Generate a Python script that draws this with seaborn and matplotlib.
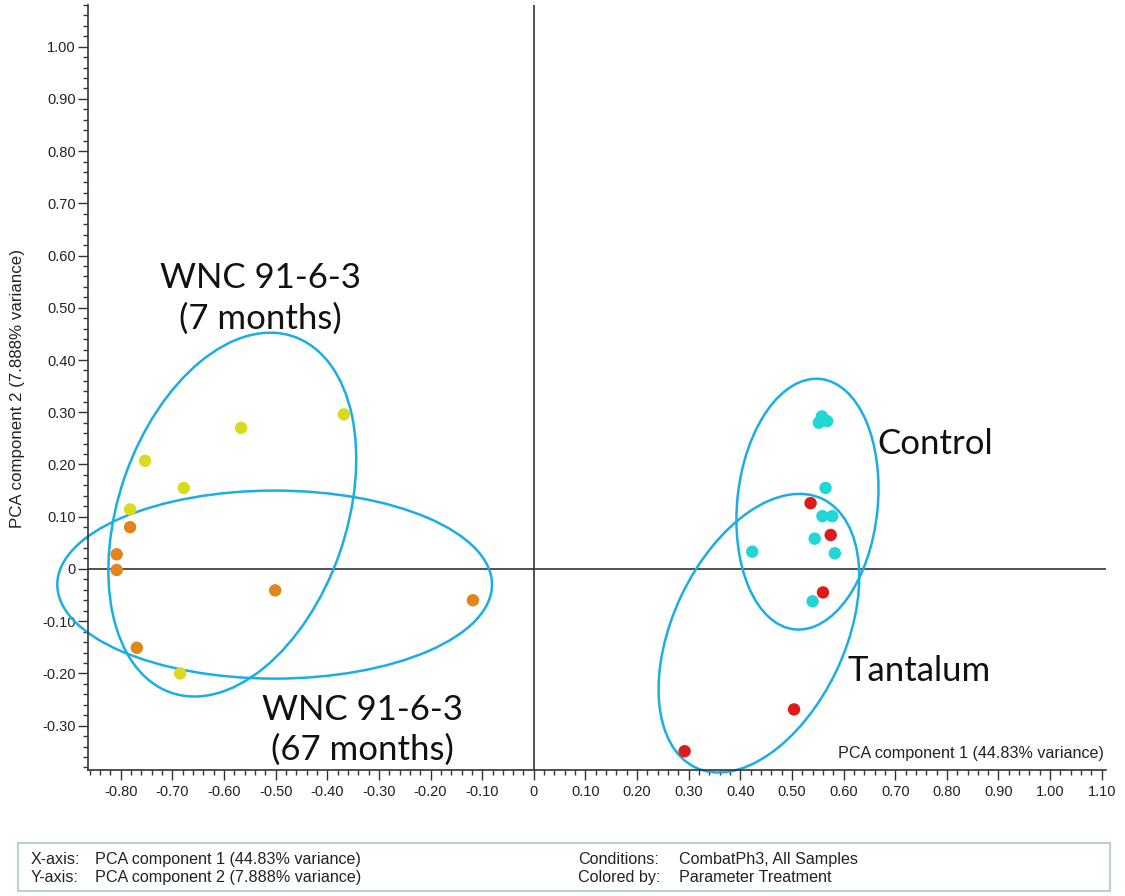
import numpy as np
import pandas as pd
import matplotlib
matplotlib.use("Agg")
import matplotlib.pyplot as plt
from matplotlib.patches import Ellipse, Rectangle
from matplotlib.ticker import MultipleLocator, FuncFormatter
import seaborn as sns

sns.set_style("ticks")
plt.rcParams['font.family'] = ['Liberation Sans', 'DejaVu Sans']

# ---- data ----
groups = ["WNC 7 months", "WNC 67 months", "Control", "Tantalum"]
colors = ["#DADA1E", "#E0861C", "#22D6D6", "#DC1C1C"]

wnc7_x = [-0.368, -0.567, -0.753, -0.678, -0.782, -0.685]
wnc7_y = [0.296, 0.270, 0.207, 0.155, 0.114, -0.200]

wnc67_x = [-0.782, -0.808, -0.808, -0.501, -0.118, -0.769]
wnc67_y = [0.080, 0.028, -0.002, -0.041, -0.060, -0.151]

control_x = [0.552, 0.558, 0.568, 0.565, 0.559, 0.578, 0.544, 0.583, 0.423, 0.540]
control_y = [0.280, 0.292, 0.283, 0.155, 0.101, 0.101, 0.058, 0.030, 0.033, -0.062]

tantalum_x = [0.536, 0.575, 0.560, 0.504, 0.292]
tantalum_y = [0.126, 0.065, -0.045, -0.269, -0.349]

# ellipses: centre x, centre y, width, height, angle
ell_cx = [-0.584, -0.502, 0.530, 0.436]
ell_cy = [0.104, -0.030, 0.124, -0.123]
ell_w = [0.722, 0.842, 0.482, 0.570]
ell_h = [0.441, 0.360, 0.272, 0.333]
ell_ang = [70.6, 0.0, 84.0, 64.3]

notes = ["WNC 91-6-3\n(7 months)", "WNC 91-6-3\n(67 months)", "Control", "Tantalum"]
note_x = [-0.530, -0.331, 0.778, 0.747]
note_y = [0.518, -0.308, 0.239, -0.196]

df = pd.concat([
    pd.DataFrame({"pc1": wnc7_x, "pc2": wnc7_y, "group": groups[0]}),
    pd.DataFrame({"pc1": wnc67_x, "pc2": wnc67_y, "group": groups[1]}),
    pd.DataFrame({"pc1": control_x, "pc2": control_y, "group": groups[2]}),
    pd.DataFrame({"pc1": tantalum_x, "pc2": tantalum_y, "group": groups[3]}),
], ignore_index=True)

fig = plt.figure(figsize=(11.25, 8.96), dpi=100)
ax = fig.add_axes([0.078, 0.1406, 0.905, 0.854])

# zero lines
ax.axhline(0, color="#333333", lw=1.2, zorder=1)
ax.axvline(0, color="#333333", lw=1.2, zorder=1)

sns.scatterplot(data=df, x="pc1", y="pc2", hue="group", hue_order=groups,
                palette=colors, s=80, linewidth=0, legend=False, ax=ax, zorder=3)

for cx, cy, w, h, a in zip(ell_cx, ell_cy, ell_w, ell_h, ell_ang):
    ax.add_patch(Ellipse((cx, cy), w, h, angle=a, fill=False, clip_on=False,
                         edgecolor="#1AAEE6", lw=1.8, zorder=2))

for t, x, y in zip(notes, note_x, note_y):
    ax.text(x, y, t, ha="center", va="center", fontsize=25, family="Lato",
            linespacing=1.3, color="#111111")

ax.set_xlim(-0.864, 1.108)
ax.set_ylim(-0.385, 1.08)

fmt = FuncFormatter(lambda v, p: "0" if abs(v) < 1e-9 else "%.2f" % v)
ax.xaxis.set_major_locator(MultipleLocator(0.1))
ax.xaxis.set_minor_locator(MultipleLocator(0.02))
ax.yaxis.set_major_locator(MultipleLocator(0.1))
ax.yaxis.set_minor_locator(MultipleLocator(0.02))
ax.xaxis.set_major_formatter(fmt)
ax.yaxis.set_major_formatter(fmt)
ax.tick_params(axis="both", which="major", length=7, width=1, color="#333333",
               labelsize=10.5, labelcolor="#222222")
ax.tick_params(axis="both", which="minor", length=3.6, width=1, color="#333333")
ax.tick_params(axis="x", which="major", pad=3.5)
ax.tick_params(axis="y", which="major", pad=1.5)

sns.despine(ax=ax)
for sp in ["left", "bottom"]:
    ax.spines[sp].set_color("#333333")
    ax.spines[sp].set_linewidth(1.2)

ax.set_xlabel("")
ax.set_ylabel("")
ax.text(0.998, 0.012, "PCA component 1 (44.83% variance)", transform=ax.transAxes,
        ha="right", va="bottom", fontsize=11.6, color="#222222")
fig.text(18 / 1125, 1 - 388 / 896, "PCA component 2 (7.888% variance)", rotation=90,
         ha="center", va="center", fontsize=12.2, color="#222222")

# info box at the bottom
fig.patches.append(Rectangle((18 / 1125, 1 - 891 / 896), 1092 / 1125, 48 / 896,
                             transform=fig.transFigure, fill=False,
                             edgecolor="#B9D2D2", lw=1.5))
row1 = 1 - 859 / 896
row2 = 1 - 877 / 896
info = [(31, row1, "X-axis:"), (95, row1, "PCA component 1 (44.83% variance)"),
        (31, row2, "Y-axis:"), (95, row2, "PCA component 2 (7.888% variance)"),
        (578, row1, "Conditions:"), (679, row1, "CombatPh3, All Samples"),
        (578, row2, "Colored by:"), (679, row2, "Parameter Treatment")]
for px, yy, t in info:
    fig.text(px / 1125, yy, t, ha="left", va="center", fontsize=11.6, color="#222222")

fig.savefig("out.png", dpi=100)
